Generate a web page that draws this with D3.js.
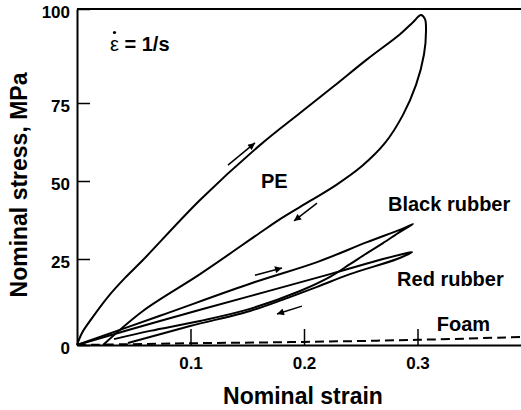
<!DOCTYPE html>
<html>
<head>
<meta charset="utf-8">
<script src="https://cdn.jsdelivr.net/npm/d3@7"></script>
<style>
  body { margin: 0; background: #fff; }
  svg { display: block; font-family: "Liberation Sans", Arial, sans-serif; font-weight: bold; }
</style>
</head>
<body>
<svg id="chart" width="521" height="410"></svg>
<script>
// [nominal strain, nominal stress MPa]
const peLoading = [[0, 0], [0.0044, 3.5], [0.0132, 7.8], [0.0273, 14.0], [0.0423, 19.5],
  [0.0581, 24.7], [0.1084, 43.9], [0.1612, 61.5], [0.1965, 71.8], [0.2256, 79.3],
  [0.2555, 86.6], [0.2846, 93.3], [0.2960, 96.5], [0.3031, 98.4], [0.3066, 97.3]];
const peUnloading = [[0.3075, 94.6], [0.3057, 87.9], [0.2987, 79.8], [0.2872, 71.2],
  [0.2714, 62.2], [0.2511, 54.8], [0.2282, 48.7], [0.2053, 43.6], [0.1789, 37.8],
  [0.1612, 33.4], [0.1084, 20.6], [0.0581, 9.9], [0.0229, 0]];

const blackLoading = [[0, 0], [0.0731, 8.5], [0.1568, 18.3], [0.2115, 24.1], [0.2555, 30.4],
  [0.2855, 34.5], [0.2960, 36.2]];
const blackUnloading = [[0.2846, 33.7], [0.2696, 30.1], [0.2555, 26.9], [0.2405, 23.5],
  [0.2229, 19.8], [0.1965, 15.7], [0.1524, 10.5], [0.1084, 7.0], [0.0643, 4.1], [0.0326, 1.7]];

const redLoading = [[0, 0], [0.0731, 7.0], [0.1524, 14.2], [0.2229, 20.6], [0.2696, 25.0],
  [0.2872, 26.6], [0.2952, 27.2]];
const redUnloading = [[0.2820, 25.0], [0.2405, 20.6], [0.2115, 16.9], [0.1815, 13.2],
  [0.1524, 9.9], [0.0996, 5.5], [0.0449, 0.6]];

const foam = [[0, 0], [0.1, 0.5], [0.2, 0.9], [0.3, 1.5], [0.4, 2.4]];

const strainTicks = [0.1, 0.2, 0.3];
const stressTicks = [0, 25, 50, 75, 100];

// loading / unloading direction arrows, [from, to]
const arrows = [
  [[0.1330, 55.1], [0.1568, 62.2]],
  [[0.2115, 42.9], [0.1912, 37.2]],
  [[0.1568, 20.3], [0.1806, 22.4]],
  [[0.1982, 11.3], [0.1762, 9.0]]
];

const labels = [
  { text: 'PE', at: [0.1621, 47.8] },
  { text: 'Black rubber', at: [0.274, 40.4] },
  { text: 'Red rubber', at: [0.282, 17.2] },
  { text: 'Foam', at: [0.317, 4.1] }
];

const svg = d3.select('#chart');

let x = d3.scaleLinear().domain([0, 0.4]).range([77, 531]);
// the printed stress axis is not evenly spaced, follow its ticks
let y = d3.scaleLinear().domain(stressTicks).range([345, 259, 181, 103, 9]);

svg.append('defs').append('marker')
  .attr('id', 'head')
  .attr('viewBox', '0 0 10 10')
  .attr('refX', 10).attr('refY', 5)
  .attr('markerUnits', 'userSpaceOnUse')
  .attr('markerWidth', 9).attr('markerHeight', 7)
  .attr('orient', 'auto')
  .append('path')
  .attr('d', 'M0,0L10,5L0,10Z')
  .attr('fill', '#000');

// axes
let yAxis = svg.append('g')
  .attr('transform', 'translate(' + x(0) + ',0)')
  .call(d3.axisLeft(y).tickValues(stressTicks).tickSize(-13).tickSizeOuter(0).tickPadding(7));

let xAxis = svg.append('g')
  .attr('transform', 'translate(0,' + y(0) + ')')
  .call(d3.axisBottom(x).tickValues(strainTicks).tickSize(-16).tickSizeOuter(0)
    .tickPadding(12).tickFormat(d3.format('.1f')));

[yAxis, xAxis].forEach(g => {
  g.select('.domain').attr('stroke-width', 2);
  g.selectAll('.tick line').attr('stroke-width', 1.5);
  g.selectAll('.tick text')
    .attr('font-size', 17)
    .attr('font-family', '"Liberation Sans", Arial, sans-serif')
    .attr('font-weight', 'bold')
    .attr('fill', '#000');
});
yAxis.selectAll('.tick text').attr('dy', '0.52em');

// top frame
svg.append('line')
  .attr('x1', x(0)).attr('x2', x(0.4))
  .attr('y1', y(100)).attr('y2', y(100))
  .attr('stroke', '#000').attr('stroke-width', 2);

// curves
let line = d3.line()
  .x(d => x(d[0]))
  .y(d => y(d[1]))
  .curve(d3.curveCatmullRom.alpha(0.5));

let loops = [
  peLoading.concat(peUnloading),
  blackLoading.concat(blackUnloading),
  redLoading.concat(redUnloading)
];

svg.selectAll('.loop')
  .data(loops)
  .enter().append('path')
  .attr('class', 'loop')
  .attr('d', line)
  .attr('fill', 'none')
  .attr('stroke', '#000')
  .attr('stroke-width', 2);

svg.append('path')
  .attr('d', line(foam))
  .attr('fill', 'none')
  .attr('stroke', '#000')
  .attr('stroke-width', 2)
  .attr('stroke-dasharray', '9,5');

svg.selectAll('.arrow')
  .data(arrows)
  .enter().append('line')
  .attr('class', 'arrow')
  .attr('x1', d => x(d[0][0])).attr('y1', d => y(d[0][1]))
  .attr('x2', d => x(d[1][0])).attr('y2', d => y(d[1][1]))
  .attr('stroke', '#000')
  .attr('stroke-width', 1.5)
  .attr('marker-end', 'url(#head)');

// labels
svg.selectAll('.label')
  .data(labels)
  .enter().append('text')
  .attr('class', 'label')
  .attr('x', d => x(d.at[0]))
  .attr('y', d => y(d.at[1]))
  .attr('font-size', 20)
  .text(d => d.text);

// strain rate note
let rate = svg.append('text')
  .attr('x', x(0.0291))
  .attr('y', y(88.7))
  .attr('font-size', 20);
rate.append('tspan').attr('font-weight', 'normal').text('ε');
rate.append('tspan').text(' = 1/s');
svg.append('circle')
  .attr('cx', x(0.0291) + 4.5)
  .attr('cy', y(88.7) - 19)
  .attr('r', 1.6)
  .attr('fill', '#000');

// axis titles
svg.append('text')
  .attr('x', 303)
  .attr('y', 404)
  .attr('text-anchor', 'middle')
  .attr('font-size', 23)
  .text('Nominal strain');

svg.append('text')
  .attr('transform', 'translate(27,185) rotate(-90)')
  .attr('text-anchor', 'middle')
  .attr('font-size', 23)
  .text('Nominal stress, MPa');
</script>
</body>
</html>
